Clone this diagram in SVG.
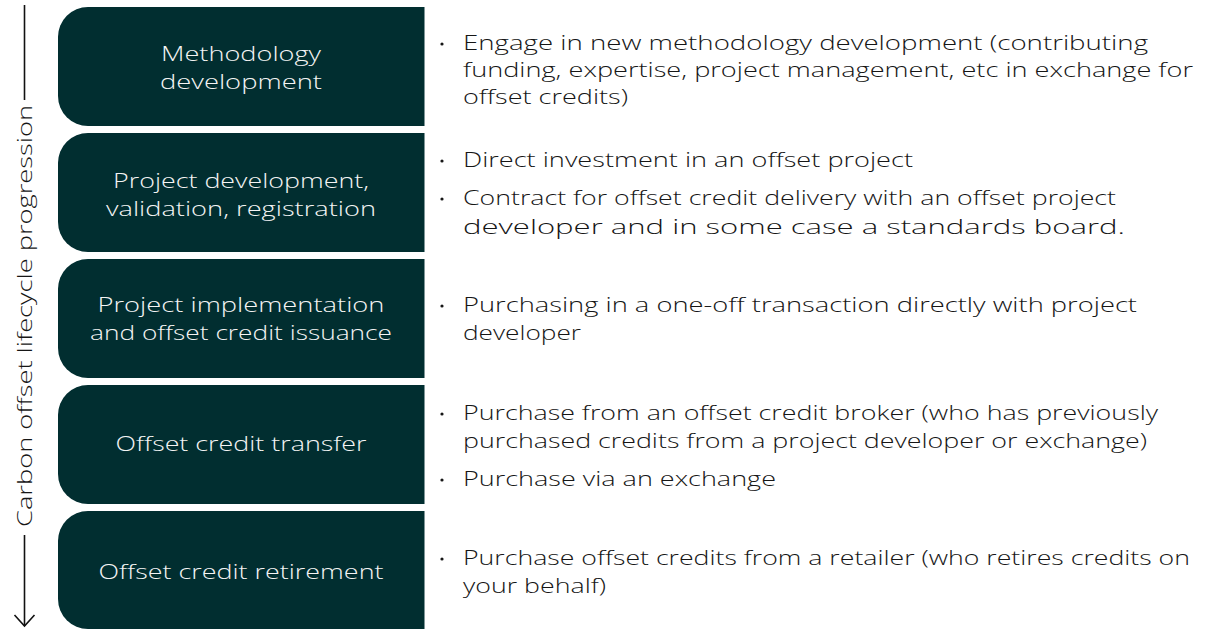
<svg xmlns="http://www.w3.org/2000/svg" width="1215" height="629" viewBox="0 0 1215 629">
  <style>
    .stage { fill: #012e30; }
    .stage-label { font-family: "Open Sans", "Liberation Sans", sans-serif; font-size: 21px; font-weight: 350; fill: #f4f4f4; text-anchor: middle; }
    .detail { font-family: "Open Sans", "Liberation Sans", sans-serif; font-size: 21px; font-weight: 350; fill: #161616; }
    .bullet { fill: #161616; }
    .axis { stroke: #111; stroke-width: 1.6; fill: none; }
    .axis-label { font-family: "Open Sans", "Liberation Sans", sans-serif; font-size: 21px; font-weight: 350; fill: #161616; text-anchor: middle; }
  </style>
  <defs>
    <!-- open chevron pointing along the line direction -->
    <marker id="chevron" viewBox="0 0 14 24" refX="12" refY="12" markerWidth="14" markerHeight="24" markerUnits="userSpaceOnUse" orient="auto">
      <polyline points="1,2 12,12 1,22" fill="none" stroke="#111" stroke-width="1.6"/>
    </marker>
  </defs>
  <rect width="1215" height="629" fill="#ffffff"/>

  <!-- lifecycle axis -->
  <g id="connectors">
    <line class="axis" x1="24.5" y1="5" x2="24.5" y2="100"/>
    <line class="axis" x1="24.5" y1="535" x2="24.5" y2="626" marker-end="url(#chevron)"/>
  </g>
  <text class="axis-label" transform="translate(32,316) rotate(-90)" textLength="422" lengthAdjust="spacingAndGlyphs">Carbon offset lifecycle progression</text>

  <!-- stage 1 -->
  <g id="stage-methodology">
    <path class="stage" d="M88 7H424.5V126H88A30 30 0 0 1 58 96V37A30 30 0 0 1 88 7Z"/>
    <text class="stage-label" x="241" y="61" textLength="160" lengthAdjust="spacingAndGlyphs">Methodology</text>
    <text class="stage-label" x="241" y="89" textLength="162" lengthAdjust="spacingAndGlyphs">development</text>
    <circle class="bullet" cx="442" cy="44" r="1.6"/>
    <text class="detail" x="463" y="50" textLength="685" lengthAdjust="spacingAndGlyphs">Engage in new methodology development (contributing</text>
    <text class="detail" x="463" y="77" textLength="730" lengthAdjust="spacingAndGlyphs">funding, expertise, project management, etc in exchange for</text>
    <text class="detail" x="463" y="104" textLength="165" lengthAdjust="spacingAndGlyphs">offset credits)</text>
  </g>

  <!-- stage 2 -->
  <g id="stage-project-development">
    <path class="stage" d="M88 133H424.5V252H88A30 30 0 0 1 58 222V163A30 30 0 0 1 88 133Z"/>
    <text class="stage-label" x="241" y="188" textLength="256" lengthAdjust="spacingAndGlyphs">Project development,</text>
    <text class="stage-label" x="241" y="216" textLength="270" lengthAdjust="spacingAndGlyphs">validation, registration</text>
    <circle class="bullet" cx="442" cy="161" r="1.6"/>
    <text class="detail" x="463" y="167" textLength="450" lengthAdjust="spacingAndGlyphs">Direct investment in an offset project</text>
    <circle class="bullet" cx="442" cy="199" r="1.6"/>
    <text class="detail" x="463" y="205" textLength="653" lengthAdjust="spacingAndGlyphs">Contract for offset credit delivery with an offset project</text>
    <text class="detail" x="463" y="234" textLength="662" lengthAdjust="spacingAndGlyphs">developer and in some case a standards board.</text>
  </g>

  <!-- stage 3 -->
  <g id="stage-implementation">
    <path class="stage" d="M88 259H424.5V378H88A30 30 0 0 1 58 348V289A30 30 0 0 1 88 259Z"/>
    <text class="stage-label" x="241" y="312" textLength="287" lengthAdjust="spacingAndGlyphs">Project implementation</text>
    <text class="stage-label" x="241" y="340" textLength="302" lengthAdjust="spacingAndGlyphs">and offset credit issuance</text>
    <circle class="bullet" cx="442" cy="306" r="1.6"/>
    <text class="detail" x="463" y="312" textLength="674" lengthAdjust="spacingAndGlyphs">Purchasing in a one-off transaction directly with project</text>
    <text class="detail" x="463" y="340" textLength="118" lengthAdjust="spacingAndGlyphs">developer</text>
  </g>

  <!-- stage 4 -->
  <g id="stage-transfer">
    <path class="stage" d="M88 385H424.5V504H88A30 30 0 0 1 58 474V415A30 30 0 0 1 88 385Z"/>
    <text class="stage-label" x="241" y="451" textLength="251" lengthAdjust="spacingAndGlyphs">Offset credit transfer</text>
    <circle class="bullet" cx="442" cy="414" r="1.6"/>
    <text class="detail" x="463" y="420" textLength="695" lengthAdjust="spacingAndGlyphs">Purchase from an offset credit broker (who has previously</text>
    <text class="detail" x="463" y="448" textLength="684" lengthAdjust="spacingAndGlyphs">purchased credits from a project developer or exchange)</text>
    <circle class="bullet" cx="442" cy="480" r="1.6"/>
    <text class="detail" x="463" y="486" textLength="313" lengthAdjust="spacingAndGlyphs">Purchase via an exchange</text>
  </g>

  <!-- stage 5 -->
  <g id="stage-retirement">
    <path class="stage" d="M88 511H424.5V629H88A30 30 0 0 1 58 599V541A30 30 0 0 1 88 511Z"/>
    <text class="stage-label" x="241" y="579" textLength="285" lengthAdjust="spacingAndGlyphs">Offset credit retirement</text>
    <circle class="bullet" cx="442" cy="559" r="1.6"/>
    <text class="detail" x="463" y="565" textLength="727" lengthAdjust="spacingAndGlyphs">Purchase offset credits from a retailer (who retires credits on</text>
    <text class="detail" x="463" y="593" textLength="143" lengthAdjust="spacingAndGlyphs">your behalf)</text>
  </g>
</svg>
